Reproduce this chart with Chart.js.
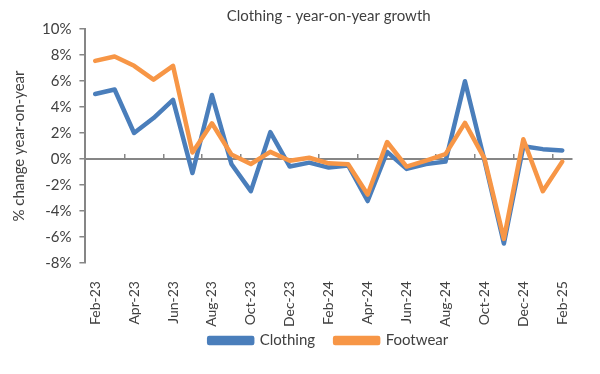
<!DOCTYPE html>
<html>
<head>
<meta charset="utf-8">
<script src="https://cdn.jsdelivr.net/npm/chart.js@4"></script>
<style>
  html, body { margin: 0; padding: 0; background: #fff; }
  #wrap { width: 600px; height: 374px; }
</style>
</head>
<body>
<div id="wrap"><canvas id="c" width="600" height="374"></canvas></div>
<script>
const months = ["Feb-23","Mar-23","Apr-23","May-23","Jun-23","Jul-23","Aug-23","Sep-23","Oct-23","Nov-23","Dec-23","Jan-24",
  "Feb-24","Mar-24","Apr-24","May-24","Jun-24","Jul-24","Aug-24","Sep-24","Oct-24","Nov-24","Dec-24","Jan-25","Feb-25"];
const clothing = [5.0, 5.35, 2.0, 3.15, 4.55, -1.08, 4.92, -0.38, -2.47, 2.07, -0.58, -0.28,
  -0.66, -0.5, -3.23, 0.55, -0.76, -0.38, -0.2, 5.98, -0.1, -6.5, 0.98, 0.76, 0.66];
const footwear = [7.55, 7.88, 7.17, 6.11, 7.17, 0.5, 2.75, 0.35, -0.38, 0.55, -0.13, 0.1,
  -0.33, -0.4, -2.73, 1.31, -0.58, -0.13, 0.38, 2.78, 0.05, -6.14, 1.52, -2.47, -0.2];
const yTicks = [-8, -6, -4, -2, 0, 2, 4, 6, 8, 10];

const FONT = "Lato";
const FS = 15;
const TXT = "#404040";
const AX = "#868686";
const BLUE = "#4A7EBB";
const ORANGE = "#F79646";
const X_CUT = 24;

new Chart(document.getElementById("c"), {
  type: "line",
  data: {
    labels: months,
    datasets: [
      { label: "Clothing", data: clothing, borderColor: BLUE, backgroundColor: BLUE,
        borderWidth: 4.5, pointRadius: 0, tension: 0, order: 1, borderJoinStyle: "round", borderCapStyle: "round" },
      { label: "Footwear", data: footwear, borderColor: ORANGE, backgroundColor: ORANGE,
        borderWidth: 4.5, pointRadius: 0, tension: 0, order: 0, borderJoinStyle: "round", borderCapStyle: "round" }
    ]
  },
  plugins: [{
    id: "xLabelRoom",
    afterLayout: function(chart) {
      const s = chart.scales.x;
      s.bottom += X_CUT;
      s.height += X_CUT;
    }
  }],
  options: {
    responsive: false,
    animation: false,
    devicePixelRatio: 1,
    layout: { padding: { top: 5, right: 28, left: 10, bottom: 16 } },
    plugins: {
      title: { display: true, text: "Clothing - year-on-year growth", fullSize: false,
        color: TXT, font: { family: FONT, size: FS, weight: "normal" }, padding: { top: 2, bottom: 4 } },
      legend: { position: "bottom", fullSize: false,
        labels: { color: TXT, font: { family: FONT, size: FS }, boxWidth: 43, boxHeight: 5, padding: 20,
          sort: function(a, b) { return a.datasetIndex - b.datasetIndex; } } },
      tooltip: { enabled: false }
    },
    scales: {
      x: {
        type: "category",
        offset: true,
        grid: { display: false },
        border: { display: false },
        afterFit: function(scale) { scale.height -= X_CUT; },
        ticks: {
          autoSkip: false, maxRotation: 90, minRotation: 90, padding: 10,
          color: TXT, font: { family: FONT, size: 14 },
          callback: function(v, i) { return i % 2 === 0 ? months[i] : ""; }
        }
      },
      x2: {
        type: "category",
        position: { y: 0 },
        offset: true,
        grid: {
          display: true, drawOnChartArea: false, drawTicks: true, tickLength: -6, offset: true, lineWidth: 1.5,
          color: function(ctx) { return (ctx.index % 2 === 0 && ctx.index > 0 && ctx.index < months.length) ? AX : "rgba(0,0,0,0)"; }
        },
        border: { display: true, color: AX, width: 2 },
        ticks: { display: false }
      },
      y: {
        min: -8, max: 10,
        afterBuildTicks: function(scale) { scale.ticks = yTicks.map(v => ({ value: v })); },
        grid: { drawOnChartArea: false, drawTicks: true, tickLength: 6, tickColor: AX, lineWidth: 1.5 },
        border: { display: true, color: AX, width: 2 },
        ticks: { color: TXT, font: { family: FONT, size: FS }, padding: 8,
          callback: function(v) { return v + "%"; } },
        title: { display: true, text: "% change year-on-year", color: TXT,
          font: { family: FONT, size: FS }, padding: { top: 0, bottom: 6 } }
      }
    }
  }
});
</script>
</body>
</html>
